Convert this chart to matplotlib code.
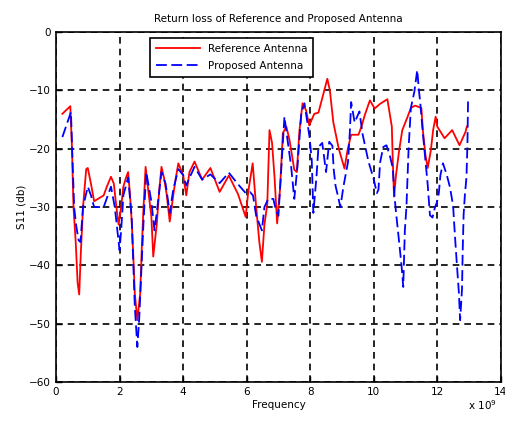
import matplotlib
matplotlib.use('Agg')
import matplotlib.pyplot as plt

# Reference antenna (frequency in GHz, S11 in dB)
ref_freq = [0.2, 0.45, 0.5, 0.55, 0.62, 0.68, 0.73, 0.78, 0.85, 0.95, 1.0, 1.1, 1.2, 1.35, 1.5,
            1.6, 1.73, 1.82, 1.9, 1.97, 2.05, 2.12, 2.2, 2.27, 2.33, 2.38, 2.43, 2.48, 2.56, 2.65,
            2.7, 2.75, 2.82, 2.9, 3.0, 3.06, 3.17, 3.25, 3.32, 3.4, 3.48, 3.58, 3.69, 3.77, 3.85,
            4.0, 4.1, 4.2, 4.36, 4.6, 4.86, 5.15, 5.44, 5.73, 5.97, 6.05, 6.19, 6.3, 6.4, 6.48,
            6.56, 6.65, 6.72, 6.8, 6.88, 6.96, 7.05, 7.14, 7.25, 7.35, 7.5, 7.58, 7.66, 7.76, 7.87,
            7.97, 8.13, 8.26, 8.42, 8.54, 8.62, 8.73, 8.9, 9.08, 9.18, 9.29, 9.52, 9.62, 9.72, 9.88,
            10.03, 10.2, 10.43, 10.57, 10.6, 10.64, 10.7, 10.8, 10.9, 11.06, 11.17, 11.3, 11.5, 11.55,
            11.63, 11.7, 11.8, 11.87, 11.95, 12.0, 12.23, 12.47, 12.7, 12.89, 12.93]
ref_s11 = [-14, -12.7, -19.5, -30, -36, -43, -45, -38, -30, -23.5, -23.3, -26, -29, -28.5, -28,
           -26.5, -24.8, -26, -30, -33, -30, -26.5, -25, -24, -28, -32.2, -38, -44.8, -49.4, -44.8,
           -37, -30.5, -23.1, -27, -31.5, -38.5, -33, -27, -23.1, -25, -27.7, -32.5, -28, -25, -22.5,
           -24.5, -28, -24, -22.2, -25.3, -23.3, -27.4, -24.6, -27.8, -31.7, -27.4, -22.5, -30, -36, -39.4,
           -33, -29.5, -16.8, -19, -25, -32.8, -27, -17.3, -16.2, -18.5, -23.6, -24, -17, -12.2, -13.4,
           -16, -14, -13.8, -10.5, -8, -10, -15.5, -20, -23.4, -20.1, -17.6, -17.6, -16.1, -14.2, -11.7,
           -13.1, -12.3, -11.5, -16.2, -22, -28.2, -24.6, -20.3, -16.8, -14.6, -13, -12.6, -13, -17,
           -21.1, -23.3, -20.2, -16.8, -14.5, -16.2, -18.2, -16.8, -19.4, -17.1, -16.2]

# Proposed antenna
prop_freq = [0.2, 0.47, 0.52, 0.57, 0.63, 0.71, 0.77, 0.85, 1.0, 1.1, 1.2, 1.5, 1.73, 1.85, 2.0,
             2.05, 2.12, 2.27, 2.38, 2.48, 2.56, 2.62, 2.75, 2.84, 3.0, 3.1, 3.17, 3.32, 3.45, 3.58,
             3.69, 3.85, 4.0, 4.1, 4.2, 4.36, 4.6, 4.86, 5.15, 5.44, 5.73, 5.97, 6.1, 6.2, 6.3,
             6.48, 6.56, 6.68, 6.84, 6.92, 7.0, 7.07, 7.19, 7.3, 7.4, 7.5, 7.6, 7.72, 7.82, 7.98,
             8.05, 8.1, 8.2, 8.26, 8.38, 8.5, 8.6, 8.7, 8.74, 8.8, 8.87, 8.95, 9.05, 9.19, 9.25,
             9.29, 9.4, 9.55, 9.65, 9.74, 9.84, 9.99, 10.1, 10.15, 10.2, 10.3, 10.4, 10.5, 10.6, 10.65,
             10.7, 10.8, 10.88, 10.93, 10.98, 11.03, 11.1, 11.17, 11.28, 11.37, 11.42, 11.47, 11.55, 11.7, 11.77,
             11.85, 11.93, 11.99, 12.05, 12.1, 12.18, 12.3, 12.4, 12.5, 12.53, 12.57, 12.62, 12.68, 12.72, 12.78,
             12.8, 12.83, 12.87, 12.92, 12.95, 12.97]
prop_s11 = [-18, -13.7, -22, -30, -33, -35.7, -36, -30, -26.5, -28, -30, -30, -26.5, -30, -37.4,
            -34, -28, -24.9, -31.6, -47, -54, -49, -33, -24, -29, -34, -31, -24, -26, -31,
            -27, -23.5, -24.5, -26.3, -25, -23.1, -25.3, -24.4, -25.9, -24.1, -26.1, -27.6, -27.4, -28, -31.5,
            -34, -30, -28.6, -28.6, -30.5, -31.5, -25.3, -14.5, -19, -23, -28.6, -23, -14, -12.2, -18,
            -22, -31, -24.7, -19.7, -19, -24, -18.8, -19.5, -23.5, -26.4, -28, -30, -26.4, -22.3, -17,
            -12, -15.5, -13.6, -17.5, -19.8, -22.3, -25, -27.6, -27, -22.4, -19.7, -19.4, -21, -23.3, -27.9,
            -30.8, -36, -40.3, -43.7, -34, -30, -19.7, -13, -10.2, -6.5, -9.8, -12.4, -17.5, -26.2, -31.4,
            -31.8, -30, -29.2, -27.6, -24.5, -22.5, -24.5, -26.6, -29.8, -32.6, -36, -40, -44.6, -49.4, -44,
            -37.8, -31.3, -27.9, -24.9, -19.2, -11.4]

plt.rcParams['font.family'] = 'DejaVu Sans'

fig = plt.figure(figsize=(5.06, 4.23), dpi=100)
ax = fig.add_axes([0.1107, 0.097, 0.879, 0.827])

ax.plot(ref_freq, ref_s11, color='red', linewidth=1.3, label='Reference Antenna')
ax.plot(prop_freq, prop_s11, color='blue', linewidth=1.3, linestyle=(0, (6, 2.5)),
        label='Proposed Antenna')

ax.set_xlim(0, 14)
ax.set_ylim(-60, 0)
ax.set_xticks(range(0, 15, 2))
ax.set_yticks(range(-60, 1, 10))
ax.grid(True, color='black', linestyle=(0, (4, 3)), linewidth=1.2)
ax.tick_params(direction='in', labelsize=7.5, length=4, width=1)
for s in ax.spines.values():
    s.set_linewidth(1.2)

ax.set_title('Return loss of Reference and Proposed Antenna', fontsize=7.5, pad=7)
ax.set_xlabel('Frequency', fontsize=7.5, labelpad=2)
ax.set_ylabel('S11 (db)', fontsize=7.5, labelpad=2)
fig.text(0.925, 0.03, r'x 10$^9$', fontsize=7.5)

leg = ax.legend(loc='upper left', bbox_to_anchor=(0.2, 0.997), fontsize=7.5,
                fancybox=False, framealpha=1, edgecolor='black', handlelength=4.2,
                borderpad=0.55, labelspacing=0.65)
leg.get_frame().set_linewidth(1.2)

fig.savefig('out.png', dpi=100)
